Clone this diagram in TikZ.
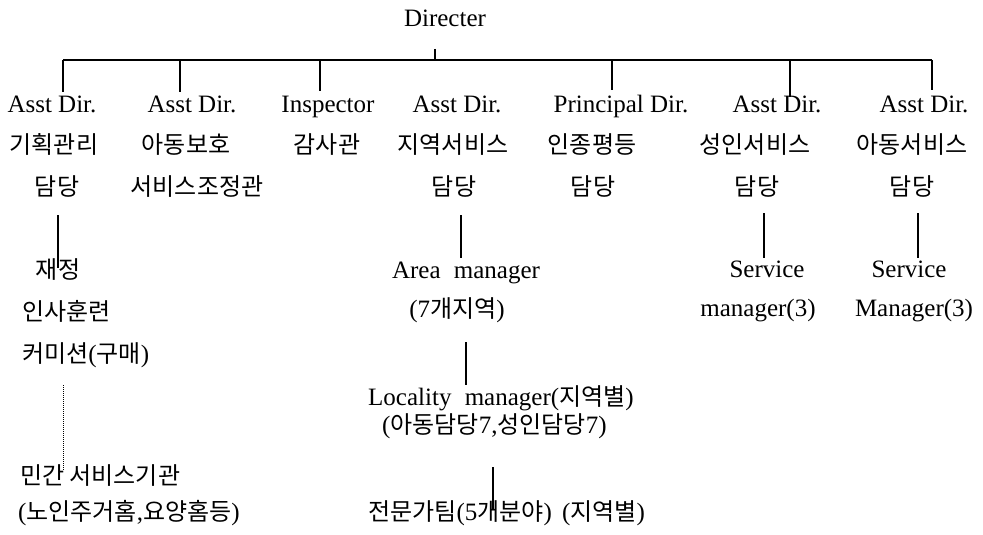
\documentclass[tikz,border=0pt]{standalone}
\usepackage{fontspec}
\setmainfont{Liberation Serif}
\newfontfamily\krfont{Noto Sans CJK KR}
\newcommand\K[1]{{\krfont\fontsize{24}{30}\selectfont #1}}
\begin{document}
\begin{tikzpicture}[x=1pt,y=-1pt,
  lbl/.style={inner sep=0pt, anchor=base, font=\fontsize{25}{30}\selectfont},
  lblw/.style={lbl, anchor=base west},
  conn/.style={draw=black, line width=1.2pt},
  dotconn/.style={draw=black, line width=1pt, dash pattern=on 1pt off 1pt}]
\useasboundingbox (0,0) rectangle (983,535);
\fill[white] (0,0) rectangle (983,535);

% top
\node[lbl] (dir) at (445,27) {Directer};

% row 1
\node[lbl] (a1) at (52,112) {Asst Dir.};
\node[lbl] (a2) at (192,112) {Asst Dir.};
\node[lbl] (a3) at (328,112) {Inspector};
\node[lbl] (a4) at (457,112) {Asst Dir.};
\node[lbl] (a5) at (621,112) {Principal Dir.};
\node[lbl] (a6) at (777,112) {Asst Dir.};
\node[lbl] (a7) at (924,112) {Asst Dir.};

% row 2
\node[lbl] (k1) at (54,153) {\K{기획관리}};
\node[lbl] (k2) at (186,153) {\K{아동보호}};
\node[lbl] (k3) at (327,153) {\K{감사관}};
\node[lbl] (k4) at (453,153) {\K{지역서비스}};
\node[lbl] (k5) at (592,153) {\K{인종평등}};
\node[lbl] (k6) at (755,153) {\K{성인서비스}};
\node[lbl] (k7) at (912,153) {\K{아동서비스}};

% row 3
\node[lbl] (d1) at (57,195) {\K{담당}};
\node[lbl] (d2) at (197,195) {\K{서비스조정관}};
\node[lbl] (d4) at (454,195) {\K{담당}};
\node[lbl] (d5) at (593,195) {\K{담당}};
\node[lbl] (d6) at (757,195) {\K{담당}};
\node[lbl] (d7) at (912,195) {\K{담당}};

% column 1 lower
\node[lbl] (fin) at (58,278) {\K{재정}};
\node[lblw] (hr) at (22,320) {\K{인사훈련}};
\node[lblw] (com) at (22,362) {\K{커미션}(\K{구매})};
\node[lblw] (pvt) at (20,484) {\K{민간 서비스기관}};
\node[lblw] (pvt2) at (18,520) {(\K{노인주거홈},\K{요양홈등})};

% column 4 lower
\node[lbl] (area) at (466,278) {Area\hspace{7pt} manager};
\node[lbl] (area2) at (457,317) {(7\K{개지역})};
\node[lblw] (loc) at (368,405) {Locality\hspace{7pt} manager(\K{지역별})};
\node[lblw] (loc2) at (382,433) {(\K{아동담당}7,\K{성인담당}7)};
\node[lblw] (team) at (368,520) {\K{전문가팀}(5\K{개분야})\hspace{4pt} (\K{지역별})};

% columns 6, 7 lower
\node[lbl] (sv6) at (767,277) {Service};
\node[lbl] (sv6b) at (758,316) {manager(3)};
\node[lbl] (sv7) at (909,277) {Service};
\node[lbl] (sv7b) at (914,316) {Manager(3)};

% connector points
\coordinate (dirS) at (435,49);
\coordinate (dirB) at (435,60);
\coordinate (b1) at (63,60);
\coordinate (b2) at (180,60);
\coordinate (b3) at (320,60);
\coordinate (b5) at (612,60);
\coordinate (b6) at (790,60);
\coordinate (b7) at (932,60);
\coordinate (e1) at (63,92);
\coordinate (e2) at (180,92);
\coordinate (e3) at (320,91);
\coordinate (e5) at (612,90);
\coordinate (e6) at (790,97);
\coordinate (e7) at (932,90);
\coordinate (c1a) at (58,215);
\coordinate (c1b) at (58,268);
\coordinate (c1c) at (63,385);
\coordinate (c1d) at (63,470);
\coordinate (c4a) at (461,215);
\coordinate (c4b) at (461,258);
\coordinate (c4c) at (466,342);
\coordinate (c4d) at (466,385);
\coordinate (c4e) at (493,467);
\coordinate (c4f) at (493,510);
\coordinate (c6a) at (764,213);
\coordinate (c6b) at (764,258);
\coordinate (c7a) at (918,213);
\coordinate (c7b) at (918,258);

% connectors
\draw[conn] (dirS) -- (dirB);
\draw[conn] (b1) -- (b7);
\draw[conn] (b1) -- (e1);
\draw[conn] (b2) -- (e2);
\draw[conn] (b3) -- (e3);
\draw[conn] (b5) -- (e5);
\draw[conn] (b6) -- (e6);
\draw[conn] (b7) -- (e7);
\draw[conn] (c1a) -- (c1b);
\draw[dotconn] (c1c) -- (c1d);
\draw[conn] (c4a) -- (c4b);
\draw[conn] (c4c) -- (c4d);
\draw[conn] (c4e) -- (c4f);
\draw[conn] (c6a) -- (c6b);
\draw[conn] (c7a) -- (c7b);
\end{tikzpicture}
\end{document}
